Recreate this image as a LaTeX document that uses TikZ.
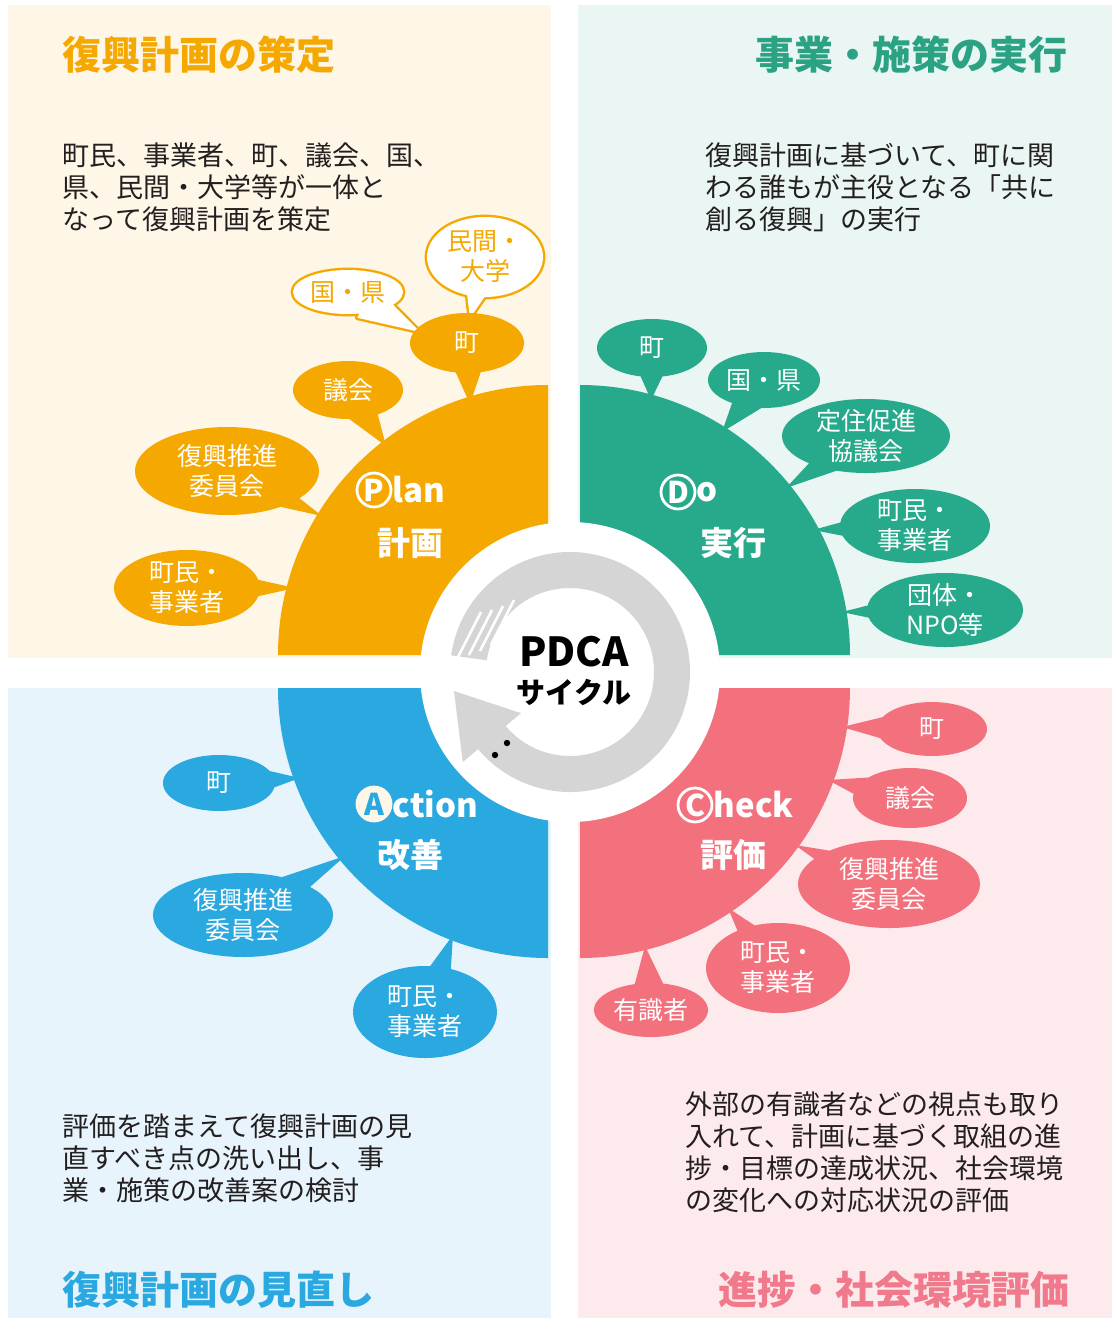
\documentclass[tikz,border=0pt]{standalone}
\usepackage{fontspec}
\setmainfont{Noto Sans CJK JP}
\usetikzlibrary{calc,positioning}

\definecolor{plancol}{HTML}{F5A800}
\definecolor{docol}{HTML}{27AA8B}
\definecolor{actcol}{HTML}{2AA8E0}
\definecolor{chkcol}{HTML}{F2717D}
\definecolor{planbg}{HTML}{FEF6E7}
\definecolor{dobg}{HTML}{EAF6F3}
\definecolor{actbg}{HTML}{E7F4FB}
\definecolor{chkbg}{HTML}{FDEAED}
\definecolor{dotitle}{HTML}{2AA283}
\definecolor{chktitle}{HTML}{F07A8C}
\definecolor{ringcol}{HTML}{D5D5D5}
\definecolor{textcol}{HTML}{231F20}

\tikzset{
  btxt/.style={text=white, align=center, inner sep=0pt, font=\fontsize{12.5}{15}\selectfont},
  body/.style={anchor=west, align=left, text=textcol, inner sep=0pt, font=\fontsize{13.5}{16}\selectfont},
  ttl/.style={inner sep=0pt, font=\fontsize{19.5}{22}\selectfont\bfseries},
  letter/.style={circle, draw=white, line width=1.4pt, text=white, inner sep=0pt, minimum size=17pt, font=\fontsize{15}{15}\selectfont\bfseries},
  stage/.style={text=white, inner sep=0pt, font=\fontsize{16.5}{18}\selectfont\bfseries},
  outl/.style={fill=white, preaction={draw=plancol, line width=2.4pt, line join=round}},
}

\begin{document}
\begin{tikzpicture}[x=0.5pt,y=-0.5pt]
  \fill[white] (0,0) rectangle (1115,1329);
  \useasboundingbox (0,0) rectangle (1115,1329);

  % four panels
  \fill[planbg] (8,5) rectangle (551,658);
  \fill[dobg] (578,5) rectangle (1112,658);
  \fill[actbg] (8,688) rectangle (551,1318);
  \fill[chkbg] (578,688) rectangle (1112,1318);

  \node[ttl, text=plancol, anchor=west] (plantitle) at (62,55) {復興計画の策定};
  \node[ttl, text=dotitle, anchor=east] (dotitle) at (1068,55) {事業・施策の実行};
  \node[ttl, text=actcol, anchor=west] (acttitle) at (62,1290) {復興計画の見直し};
  \node[ttl, text=chktitle, anchor=east] (chktitle) at (1070,1290) {進捗・社会環境評価};

  \node[body] (planbody) at (62,187) {町民、事業者、町、議会、国、\\県、民間・大学等が一体と\\なって復興計画を策定};
  \node[body] (dobody) at (705,187) {復興計画に基づいて、町に関\\わる誰もが主役となる「共に\\創る復興」の実行};
  \node[body] (actbody) at (62,1158) {評価を踏まえて復興計画の見\\直すべき点の洗い出し、事\\業・施策の改善案の検討};
  \node[body] (chkbody) at (685,1152) {外部の有識者などの視点も取り\\入れて、計画に基づく取組の進\\捗・目標の達成状況、社会環境\\の変化への対応状況の評価};

  % quarter sectors
  \fill[plancol] (548,655) -- (278,655) arc[start angle=180, end angle=270, radius=270] -- cycle;
  \fill[docol] (580,655) -- (850,655) arc[start angle=0, end angle=-90, radius=270] -- cycle;
  \fill[actcol] (548,688) -- (278,688) arc[start angle=180, end angle=90, radius=270] -- cycle;
  \fill[chkcol] (580,688) -- (850,688) arc[start angle=0, end angle=90, radius=270] -- cycle;

  % centre with the cycle arrow
  \coordinate (ring) at (570,672);
  \fill[white] (ring) circle[radius=150];
  \fill[ringcol] ($(ring)+(-172:120)$) arc[start angle=-172, end angle=140, radius=120]
    -- ($(ring)+(140:84)$) arc[start angle=140, end angle=-172, radius=84] -- cycle;
  \coordinate (arrtip) at (454,691);
  \fill[ringcol] ($(ring)+(140:64)$) -- (arrtip) -- ($(ring)+(140:140)$) -- cycle;
  \foreach \x/\y in {458/657, 469/655, 480/651, 491/645}
    \draw[white, line width=1.3pt] (\x,\y) -- ++(23,-45);
  \fill[black] (495,755) circle[radius=3.2];
  \fill[black] (507,743) circle[radius=3.2];
  \node[inner sep=0pt, font=\fontsize{20}{22}\selectfont\bfseries] (pdca) at (574,652) {PDCA};
  \node[inner sep=0pt, font=\fontsize{14.5}{16}\selectfont\bfseries] (cycle) at (574,692) {サイクル};

  % Plan bubbles
  \coordinate (pa) at (187,588);  \coordinate (pa-t) at (295,588);
  \coordinate (pb) at (227,471);  \coordinate (pb-t) at (322,516);
  \coordinate (pc) at (348,390);  \coordinate (pc-t) at (386,446);
  \coordinate (pd) at (467,343);  \coordinate (pd-t) at (470,404);
  \coordinate (pe) at (348,292);  \coordinate (pe-t) at (420,332);
  \coordinate (pf) at (485,257);  \coordinate (pf-t) at (470,318);
  \foreach \c/\rx/\ry in {pe/55/22, pf/58/40}
    \path[outl] ($(\c)!.25!(\c-t)!9pt!90:(\c-t)$) -- (\c-t) -- ($(\c)!.25!(\c-t)!9pt!-90:(\c-t)$) -- cycle
      (\c) ellipse[x radius=\rx, y radius=\ry];
  \foreach \c/\rx/\ry in {pa/73/38, pb/92/44, pc/55/29, pd/57/30}
    \fill[plancol] ($(\c)!.25!(\c-t)!9pt!90:(\c-t)$) -- (\c-t) -- ($(\c)!.25!(\c-t)!9pt!-90:(\c-t)$) -- cycle
      (\c) ellipse[x radius=\rx, y radius=\ry];
  \node[btxt] (pa-l) at (pa) {町民・\\事業者};
  \node[btxt] (pb-l) at (pb) {復興推進\\委員会};
  \node[btxt] (pc-l) at (pc) {議会};
  \node[btxt] (pd-l) at (pd) {町};
  \node[btxt, text=plancol] (pe-l) at (pe) {国・県};
  \node[btxt, text=plancol] (pf-l) at (pf) {民間・\\大学};

  % Do bubbles
  \coordinate (da) at (652,348);  \coordinate (da-t) at (651,400);
  \coordinate (db) at (764,380);  \coordinate (db-t) at (722,432);
  \coordinate (dc) at (866,436);  \coordinate (dc-t) at (786,488);
  \coordinate (dd) at (915,526);  \coordinate (dd-t) at (813,530);
  \coordinate (de) at (945,610);  \coordinate (de-t) at (842,612);
  \foreach \c/\rx/\ry in {da/55/29, db/56/28, dc/84/37, dd/75/37, de/78/37}
    \fill[docol] ($(\c)!.25!(\c-t)!9pt!90:(\c-t)$) -- (\c-t) -- ($(\c)!.25!(\c-t)!9pt!-90:(\c-t)$) -- cycle
      (\c) ellipse[x radius=\rx, y radius=\ry];
  \node[btxt] (da-l) at (da) {町};
  \node[btxt] (db-l) at (db) {国・県};
  \node[btxt] (dc-l) at (dc) {定住促進\\協議会};
  \node[btxt] (dd-l) at (dd) {町民・\\事業者};
  \node[btxt] (de-l) at (de) {団体・\\NPO等};

  % Action bubbles
  \coordinate (aa) at (219,783);  \coordinate (aa-t) at (300,778);
  \coordinate (ab) at (243,915);  \coordinate (ab-t) at (345,856);
  \coordinate (ac) at (425,1012); \coordinate (ac-t) at (453,935);
  \foreach \c/\rx/\ry in {aa/56/28, ab/90/42, ac/72/46}
    \fill[actcol] ($(\c)!.25!(\c-t)!9pt!90:(\c-t)$) -- (\c-t) -- ($(\c)!.25!(\c-t)!9pt!-90:(\c-t)$) -- cycle
      (\c) ellipse[x radius=\rx, y radius=\ry];
  \node[btxt] (aa-l) at (aa) {町};
  \node[btxt] (ab-l) at (ab) {復興推進\\委員会};
  \node[btxt] (ac-l) at (ac) {町民・\\事業者};

  % Check bubbles
  \coordinate (ca) at (932,729);  \coordinate (ca-t) at (842,727);
  \coordinate (cb) at (910,798);  \coordinate (cb-t) at (828,780);
  \coordinate (cc) at (889,884);  \coordinate (cc-t) at (795,845);
  \coordinate (cd) at (778,968);  \coordinate (cd-t) at (728,908);
  \coordinate (ce) at (651,1010); \coordinate (ce-t) at (645,946);
  \foreach \c/\rx/\ry in {ca/55/27, cb/57/30, cc/91/44, cd/72/45, ce/57/27}
    \fill[chkcol] ($(\c)!.25!(\c-t)!9pt!90:(\c-t)$) -- (\c-t) -- ($(\c)!.25!(\c-t)!9pt!-90:(\c-t)$) -- cycle
      (\c) ellipse[x radius=\rx, y radius=\ry];
  \node[btxt] (ca-l) at (ca) {町};
  \node[btxt] (cb-l) at (cb) {議会};
  \node[btxt] (cc-l) at (cc) {復興推進\\委員会};
  \node[btxt] (cd-l) at (cd) {町民・\\事業者};
  \node[btxt] (ce-l) at (ce) {有識者};

  % stage labels
  \node[letter] (pP) at (374,490) {P};
  \node[stage, right=0pt of pP] (pP2) {lan};
  \node[stage] (planj) at (410,543) {計画};
  \node[letter] (dD) at (678,492) {D};
  \node[stage, right=0pt of dD] (dD2) {o};
  \node[stage] (doj) at (733,543) {実行};
  \node[letter, fill=planbg, text=actcol, draw=planbg] (aA) at (374,804) {A};
  \node[stage, right=0pt of aA] (aA2) {ction};
  \node[stage] (actj) at (410,855) {改善};
  \node[letter] (cC) at (695,805) {C};
  \node[stage, right=0pt of cC] (cC2) {heck};
  \node[stage] (chkj) at (733,855) {評価};
\end{tikzpicture}
\end{document}
